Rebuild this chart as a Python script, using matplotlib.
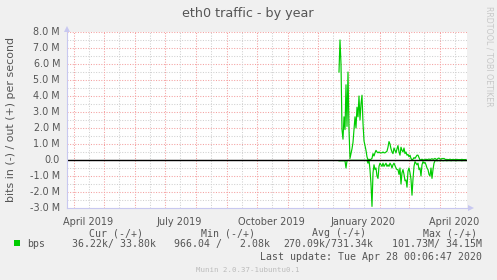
import matplotlib
matplotlib.use("Agg")
import matplotlib.pyplot as plt
import matplotlib.dates as mdates
import pandas as pd
from matplotlib.patches import Rectangle, Polygon

# ---------------- data ----------------
title = "eth0 traffic - by year"
ylabel = "bits in (-) / out (+) per second"
side_text = "RRDTOOL / TOBI OETIKER"
footer = "Munin 2.0.37-1ubuntu0.1"
last_update = "Last update: Tue Apr 28 00:06:47 2020"

period_end = "2020-04-28 00:06:47"
period_days = 400
series_start = "2019-12-22"

# out (+) traffic, millions of bits per second, one value per day
out_mbps = [5.5, 7.5, 6.0, 1.9, 1.3, 2.7, 1.9, 4.7, 2.1, 5.5,
            1.9, 0.1, 0.4, 0.7, 1.1, 1.9, 2.7, 2.0, 3.3, 2.7,
            4.0, 2.5, 3.5, 4.05, 2.3, 1.2, 0.9, 0.6, 0.2, 0.0,
            0.05, 0.0, 0.05, 0.1, 0.4, 0.25, 0.45, 0.6, 0.5, 0.45,
            0.5, 0.45, 0.45, 0.45, 0.5, 0.45, 0.45, 0.5, 0.55, 0.8,
            1.15, 1.0, 0.7, 0.5, 0.4, 0.75, 0.6, 0.45, 0.7, 0.9,
            0.5, 0.3, 0.8, 0.6, 0.5, 0.75, 0.4, 0.5, 0.3, 0.35,
            0.2, 0.3, 0.1, 0.0, 0.05, 0.15, 0.1, 0.2, 0.3, 0.3,
            0.15, 0.0, 0.02, 0.05, 0.02, 0.0, 0.03, 0.05, 0.02, 0.04,
            0.06, 0.03, 0.05, 0.08, 0.04, 0.06, 0.1, 0.05, 0.03, 0.1,
            0.12, 0.06, 0.04, 0.1, 0.08, 0.1, 0.05, 0.03, 0.04, 0.02,
            0.03, 0.05, 0.03, 0.02, 0.04, 0.03, 0.02, 0.03, 0.04, 0.02,
            0.03, 0.02, 0.03, 0.04, 0.02, 0.03, 0.02, 0.03]

# in (-) traffic, millions of bits per second (drawn negative)
in_mbps = [0.05, 0.05, 0.05, 0.05, 0.05, 0.05, 0.05, 0.5, 0.05, 0.02,
           0.02, 0.02, 0.02, 0.02, 0.02, 0.02, 0.02, 0.02, 0.02, 0.02,
           0.02, 0.02, 0.02, 0.02, 0.02, 0.02, 0.02, 0.02, 0.02, 0.2,
           0.0, 0.6, 1.5, 2.9, 0.8, 0.3, 0.6, 0.5, 1.0, 1.15,
           0.4, 0.2, 0.3, 0.4, 0.2, 0.4, 0.3, 0.2, 0.4, 0.3,
           0.4, 0.2, 0.3, 0.5, 0.3, 0.2, 0.35, 0.5, 0.6, 0.6,
           0.9, 0.5, 1.5, 0.8, 0.6, 0.9, 1.3, 1.25, 1.7, 0.7,
           0.5, 0.8, 1.2, 2.2, 1.2, 0.4, 0.1, 0.2, 0.3, 0.2,
           0.6, 0.5, 1.0, 0.3, 0.1, 0.2, 0.15, 0.3, 0.5, 0.6,
           0.9, 1.0, 0.5, 1.15, 0.6, 0.2, 0.05, 0.03, 0.05, 0.04,
           0.03, 0.05, 0.04, 0.03, 0.05, 0.04, 0.03, 0.04, 0.05, 0.03,
           0.04, 0.03, 0.05, 0.04, 0.03, 0.04, 0.03, 0.05, 0.04, 0.03,
           0.04, 0.03, 0.04, 0.05, 0.03, 0.04, 0.03, 0.04]

y_ticks = [-3, -2, -1, 0, 1, 2, 3, 4, 5, 6, 7, 8]
y_tick_labels = ["-3.0 M", "-2.0 M", "-1.0 M", "0.0", "1.0 M", "2.0 M",
                 "3.0 M", "4.0 M", "5.0 M", "6.0 M", "7.0 M", "8.0 M"]
x_label_dates = ["2019-04-15", "2019-07-15", "2019-10-15", "2020-01-15", "2020-04-15"]
x_labels = ["April 2019", "July 2019", "October 2019", "January 2020", "April 2020"]

legend_name = "bps"
legend_headers = ["Cur (-/+)", "Min (-/+)", "Avg (-/+)", "Max (-/+)"]
legend_values = ["36.22k/ 33.80k", "966.04 /   2.08k", "270.09k/731.34k", "101.73M/ 34.15M"]

# ---------------- figure ----------------
W, H = 497, 280
fig = plt.figure(figsize=(W / 100, H / 100), dpi=100, facecolor="#F0F0F0")

def px(x, y):
    return x / W, 1 - y / H

left, right, top, bottom = 67, 467, 32, 208
ax = fig.add_axes([left / W, 1 - bottom / H, (right - left) / W, (bottom - top) / H])
ax.set_facecolor("white")

end = pd.Timestamp(period_end)
start = end - pd.Timedelta(days=period_days)
ax.set_xlim(start, end)
ax.set_ylim(y_ticks[0], y_ticks[-1])

grid_red = "#F4A0A0"
grid_gray = "#D0D0D0"
dot = (0, (1, 1.5))

# horizontal grid
for v in y_ticks:
    ax.axhline(v, color=grid_red, lw=0.75, ls=dot, zorder=1)
for v in y_ticks[:-1]:
    ax.axhline(v + 0.5, color=grid_gray, lw=0.75, ls=dot, zorder=1)
# vertical grid
for d in pd.date_range(start.normalize(), end, freq="MS"):
    ax.axvline(d, color=grid_red, lw=0.75, ls=dot, zorder=1)
for d in pd.date_range(start.normalize(), end, freq="MS"):
    m = d + pd.Timedelta(days=15)
    if start < m < end:
        ax.axvline(m, color=grid_gray, lw=0.75, ls=dot, zorder=1)

dates = pd.date_range(series_start, periods=len(out_mbps), freq="D")
ax.plot(dates, out_mbps, color="#00CC00", lw=0.85, zorder=3)
ax.plot(dates, [-v for v in in_mbps], color="#00CC00", lw=0.85, zorder=3)
ax.axhline(0, color="black", lw=1.0, zorder=4)

for s in ax.spines.values():
    s.set_visible(False)
ax.set_xticks([])
ax.set_yticks([])

# axis lines with arrows
axis_col = "#C8C8F0"
fig.add_artist(plt.Line2D([left / W, left / W], [1 - bottom / H, 1 - 30 / H], color=axis_col, lw=0.8))
fig.add_artist(plt.Line2D([left / W, 469 / W], [1 - bottom / H, 1 - bottom / H], color=axis_col, lw=0.8))
fig.add_artist(Polygon([px(64, 32), px(70, 32), px(67, 26)], closed=True, color=axis_col, lw=0))
fig.add_artist(Polygon([px(468, 205), px(468, 211), px(474, 208)], closed=True, color=axis_col, lw=0))

txt = "#555555"
# y tick labels
for v, lab in zip(y_ticks, y_tick_labels):
    yp = top + (y_ticks[-1] - v) / (y_ticks[-1] - y_ticks[0]) * (bottom - top)
    fig.text(*px(60, yp), lab, ha="right", va="center", fontsize=6.9, color=txt)
# x tick labels
for d, lab in zip(x_label_dates, x_labels):
    ax.text(pd.Timestamp(d), -0.05, lab, transform=ax.get_xaxis_transform(),
            ha="center", va="top", fontsize=7, color=txt)

fig.text(*px(248, 14), title, ha="center", va="center", fontsize=9.2, color=txt)
fig.text(*px(11.5, 120), ylabel, ha="center", va="center", rotation=90, fontsize=7.9, color=txt)
fig.text(*px(489, 56), side_text, ha="center", va="center", rotation=270, fontsize=5.7, color="#C8C8C8")

mono = "DejaVu Sans Mono"
fs = 7.1
for xh, h in zip([89, 200.7, 312, 423], legend_headers):
    fig.text(*px(xh, 233), h, ha="left", va="center", fontsize=fs, family=mono, color=txt)
fig.add_artist(Rectangle(px(14, 246), 6 / W, 6 / H, color="#00CC00", lw=0))
fig.text(*px(27, 244), legend_name, ha="left", va="center", fontsize=fs, family=mono, color=txt)
for xv, v in zip([72, 174, 283, 392], legend_values):
    fig.text(*px(xv, 244), v, ha="left", va="center", fontsize=fs, family=mono, color=txt)
fig.text(*px(482, 257), last_update, ha="right", va="center", fontsize=fs, family=mono, color=txt)
fig.text(*px(248, 269.5), footer, ha="center", va="center", fontsize=5.3, family=mono, color="#BBBBBB")

fig.savefig("out.png", dpi=100, facecolor=fig.get_facecolor())
